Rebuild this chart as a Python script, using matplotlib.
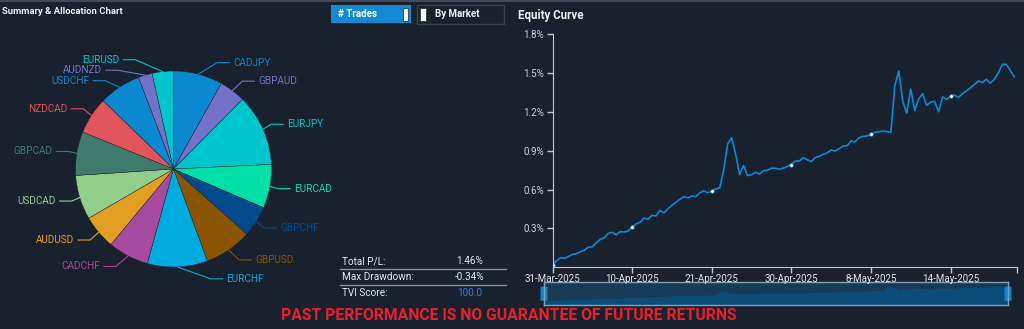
import numpy as np
import matplotlib.pyplot as plt
from matplotlib.patches import Rectangle, FancyBboxPatch
from matplotlib.lines import Line2D

W, H = 1024, 329
BG = '#19212e'

# allocation by pair (# trades share, clockwise from 12 o'clock)
pairs = ['CADJPY', 'GBPAUD', 'EURJPY', 'EURCAD', 'GBPCHF', 'GBPUSD', 'EURCHF', 'CADCHF',
         'AUDUSD', 'USDCAD', 'GBPCAD', 'NZDCAD', 'USDCHF', 'AUDNZD', 'EURUSD']
shares = [8.1, 4.3, 11.8, 7.2, 5.1, 7.8, 9.9, 6.7, 5.6, 7.3, 7.2, 6.1, 6.9, 2.3, 3.5]
pie_colors = ['#0a88d0', '#7472c8', '#00c5cd', '#00e0a8', '#014b8c', '#8a5400', '#00acdf', '#a54a9e',
              '#e29e22', '#93cd8a', '#3f7a6c', '#e2555c', '#0a88d0', '#7472c8', '#00c5cd']

# equity curve (%)
equity = [0.02, 0.05, 0.074, 0.07, 0.082, 0.10, 0.105, 0.12, 0.132, 0.155,
          0.158, 0.19, 0.215, 0.228, 0.262, 0.27, 0.25, 0.275, 0.272, 0.28,
          0.31, 0.335, 0.347, 0.38, 0.37, 0.40, 0.396, 0.44, 0.42, 0.45,
          0.478, 0.50, 0.525, 0.545, 0.535, 0.55, 0.545, 0.575, 0.59, 0.575,
          0.587, 0.605, 0.612, 0.75, 0.95, 1.0, 0.875, 0.715, 0.785, 0.708,
          0.714, 0.733, 0.72, 0.745, 0.748, 0.765, 0.764, 0.757, 0.765, 0.778,
          0.793, 0.82, 0.82, 0.845, 0.83, 0.815, 0.846, 0.855, 0.872, 0.882,
          0.905, 0.897, 0.915, 0.936, 0.938, 0.975, 0.968, 1.0, 1.01, 1.013,
          1.025, 1.042, 1.046, 1.05, 1.047, 1.04, 1.40, 1.515, 1.28, 1.19,
          1.375, 1.21, 1.30, 1.34, 1.25, 1.275, 1.28, 1.20, 1.315, 1.295,
          1.32, 1.33, 1.31, 1.34, 1.36, 1.385, 1.41, 1.437, 1.425, 1.45,
          1.42, 1.45, 1.50, 1.565, 1.566, 1.52, 1.47]
date_labels = ['31-Mar-2025', '10-Apr-2025', '21-Apr-2025', '30-Apr-2025', '8-May-2025', '14-May-2025']
label_every = 20
y_ticks = [0.3, 0.6, 0.9, 1.2, 1.5, 1.8]

stat_names = ['Total P/L:', 'Max Drawdown:', 'TVI Score:']
stat_values = ['1.46%', '-0.34%', '100.0']
stat_colors = ['#e6e9ec', '#e6e9ec', '#2f7fe0']

plt.rcParams['font.family'] = ['Roboto', 'DejaVu Sans']


def fx(x):
    return x / W


def fy(y):
    return 1 - y / H


def box(x0, y0, x1, y1, **kw):
    fig.add_artist(Rectangle((fx(x0), fy(y1)), (x1 - x0) / W, (y1 - y0) / H,
                             transform=fig.transFigure, **kw))


fig = plt.figure(figsize=(W / 100, H / 100), dpi=100, facecolor=BG)
fig.add_artist(Line2D([0, 1], [fy(0.8)] * 2, color='#414955', lw=1.5))

# ---- pie -----
fig.text(fx(2), fy(12), 'Summary & Allocation Chart', color='#eef0f2', fontsize=6.8,
         fontweight='bold', va='center')
ax_pie = fig.add_axes([fx(2), fy(289), 343 / W, 240 / H])
wedges, _ = ax_pie.pie(shares, colors=pie_colors, startangle=90, counterclock=False,
                       radius=1, wedgeprops=dict(linewidth=0.3, edgecolor=BG))
ax_pie.set_aspect('auto')
ax_pie.set_xlim(-1.75, 1.75)
ax_pie.set_ylim(-1.2245, 1.2245)
ax_pie.axis('off')

# label layout: start on a ring, push apart vertically, then x on a wider ring
labels = []
for w, name, c in zip(wedges, pairs, pie_colors):
    mid = np.deg2rad((w.theta1 + w.theta2) / 2)
    labels.append(dict(name=name, c=c, ex=np.cos(mid), ey=np.sin(mid),
                       y=1.122 * np.sin(mid), right=np.cos(mid) >= 0))
for side in (True, False):
    grp = sorted([l for l in labels if l['right'] == side], key=lambda l: -l['y'])
    for prev, cur in zip(grp, grp[1:]):
        if cur['y'] > prev['y'] - 0.107:
            cur['y'] = prev['y'] - 0.107
for l in labels:
    s = 1 if l['right'] else -1
    tx = s * np.sqrt(max(1.245 ** 2 - l['y'] ** 2, 0.0))
    end = tx - s * 0.04
    elbow = end - s * 0.122
    ax_pie.plot([l['ex'], elbow, end], [l['ey'], l['y'], l['y']], color=l['c'], lw=0.8)
    ax_pie.text(tx, l['y'], l['name'], color=l['c'], fontsize=7.2, va='center',
                ha='left' if l['right'] else 'right')

# ---- toggle buttons -----
box(331, 5, 411, 23, facecolor='#1389d4', edgecolor='none')
box(403, 8, 408, 21, facecolor='white', edgecolor='#333b47', lw=0.6)
fig.text(fx(338), fy(14), '# Trades', color='white', fontsize=7, fontweight='bold', va='center')
box(416.5, 5, 504, 23.5, facecolor=BG, edgecolor='#3a4350', lw=1)
box(420, 8, 426, 21, facecolor='white', edgecolor='#333b47', lw=0.6)
fig.text(fx(435), fy(14), 'By Market', color='#f0f2f4', fontsize=7, fontweight='bold', va='center')

# ---- stats table -----
row_y = [261.5, 277.5, 293.5]
for name, val, col, yy in zip(stat_names, stat_values, stat_colors, row_y):
    fig.text(fx(342), fy(yy), name, color='#e6e9ec', fontsize=7.2, va='center')
    fig.text(fx(469.5), fy(yy), val, color=col, fontsize=7.2, va='center', ha='center')
for yy in (269.3, 285):
    fig.add_artist(Line2D([fx(340), fx(505.5)], [fy(yy)] * 2, color='#8b929b', lw=1))

# ---- data zoom slider (drawn first so the axis labels stay on top) -----
n = len(equity)
x = np.arange(n)
az = fig.add_axes([fx(544), fy(305), (1008 - 544) / W, (305 - 282.3) / H])
az.set_facecolor('#183a55')
az.fill_between(x, equity, -0.43, color='#0b4c76', lw=0)
az.set_xlim(0, n - 1)
az.set_ylim(-0.43, 1.93)
az.set_xticks([])
az.set_yticks([])
for sp in az.spines.values():
    sp.set_color('#7fa3bf')
    sp.set_linewidth(1)
for hx in (0, 1):
    az.add_patch(FancyBboxPatch((hx - 0.006, 0.22), 0.012, 0.56, boxstyle='round,pad=0,rounding_size=0.003',
                                transform=az.transAxes, facecolor='#1583c9', edgecolor='#1583c9',
                                clip_on=False))

# ---- equity curve -----
fig.text(fx(518), fy(15), 'Equity Curve', color='#eef0f2', fontsize=8.3,
         fontweight='bold', va='center')
ax = fig.add_axes([fx(552.5), fy(267.3), 464.5 / W, (267.3 - 34) / H])
ax.set_facecolor(BG)
ax.plot(x, equity, color='#0a8ad6', lw=1.2)
ax.plot(x[::label_every], equity[::label_every], 'o', ms=2.6, mfc='white',
        mec='#0a8ad6', mew=0.4)
ax.set_xlim(0, n - 0.3)
ax.set_ylim(0, 1.8)
ax.set_yticks(y_ticks)
ax.set_yticklabels([f'{v:.1f}%' for v in y_ticks])
ax.set_xticks(list(x[::label_every][:len(date_labels)]) + [n - 0.3])
ax.set_xticklabels(date_labels + [''])
ax.tick_params(axis='both', colors='#c3c9d0', length=4, width=1, labelsize=7, pad=2)
ax.tick_params(axis='x', labelcolor='#e3e7ea', pad=0.5)
ax.tick_params(axis='y', labelcolor='#d0d5db')
for sp in ('top', 'right'):
    ax.spines[sp].set_visible(False)
for sp in ('left', 'bottom'):
    ax.spines[sp].set_color('#c3c9d0')

# ---- disclaimer -----
fig.text(fx(509), fy(316), 'PAST PERFORMANCE IS NO GUARANTEE OF FUTURE RETURNS',
         color='#e8202a', fontsize=11.3, fontweight='bold', ha='center', va='center')

fig.savefig('out.png', dpi=100, facecolor=BG)
